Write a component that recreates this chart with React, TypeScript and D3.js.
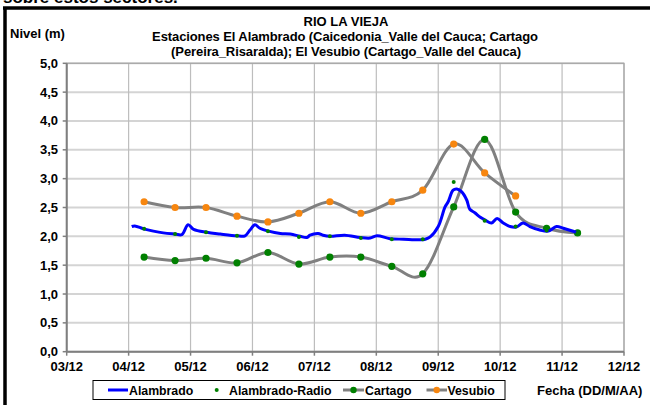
import * as d3 from "d3";

const width = 650;
const height = 405;

// eje x en meses (3 = 03/12 ... 12 = 12/12)
const tickMeses = [3, 4, 5, 6, 7, 8, 9, 10, 11, 12];
const tickEtiquetas = ["03/12", "04/12", "05/12", "06/12", "07/12", "08/12", "09/12", "10/12", "11/12", "12/12"];
const tickNivel = [0, 0.5, 1, 1.5, 2, 2.5, 3, 3.5, 4, 4.5, 5];

// muestreos quincenales
const muestreoMes = [4.25, 4.75, 5.25, 5.75, 6.25, 6.75, 7.25, 7.75, 8.25, 8.75, 9.25, 9.75, 10.25, 10.75, 11.25];
const cartago = [1.64, 1.58, 1.62, 1.54, 1.72, 1.52, 1.64, 1.64, 1.48, 1.35, 2.51, 3.68, 2.42, 2.14, 2.06];
const alambradoRadio = [2.13, 2.04, 2.07, 2.01, 2.09, 1.99, 2.0, 1.97, 1.95, 1.95, 2.94, 2.27, 2.17, 2.1, 2.06];
const vesubio = [2.6, 2.5, 2.5, 2.35, 2.25, 2.4, 2.6, 2.4, 2.6, 2.8, 3.6, 3.1, 2.7];

// serie continua de la estacion El Alambrado
const alambradoMes = [
  4.05, 4.1, 4.24, 4.4, 4.56, 4.75, 4.86, 4.96, 5.05, 5.26, 5.48, 5.75, 5.88, 5.96, 6.04, 6.12, 6.26, 6.45, 6.61,
  6.77, 6.88, 6.93, 7.06, 7.14, 7.25, 7.49, 7.74, 7.9, 8.01, 8.22, 8.44, 8.71, 8.79, 8.87, 9.0, 9.11, 9.16, 9.24,
  9.3, 9.38, 9.46, 9.51, 9.59, 9.68, 9.76, 9.86, 9.95, 10.05, 10.16, 10.26, 10.37, 10.48, 10.64, 10.78, 10.91,
  11.02, 11.26,
];
const alambradoNivel = [
  2.17, 2.18, 2.13, 2.09, 2.06, 2.04, 2.03, 2.2, 2.12, 2.07, 2.04, 2.01, 2.01, 2.11, 2.2, 2.14, 2.09, 2.05, 2.04,
  2.0, 1.98, 2.02, 2.05, 2.02, 2.0, 2.02, 1.98, 1.97, 2.01, 1.96, 1.95, 1.94, 1.95, 1.99, 2.17, 2.51, 2.6, 2.8,
  2.82, 2.77, 2.63, 2.47, 2.41, 2.33, 2.28, 2.23, 2.31, 2.23, 2.17, 2.16, 2.23, 2.17, 2.11, 2.09, 2.17, 2.14,
  2.06,
];

const font = "'Liberation Sans', Arial, sans-serif";
const plotLeft = 66.7;
const plotRight = 624;
const plotTop = 63.3;
const plotBottom = 351.7;

const x = d3.scaleLinear().domain([3, 12]).range([plotLeft, plotRight]);
const y = d3.scaleLinear().domain([0, 5]).range([plotBottom, plotTop]);

const suave = d3
  .line<[number, number]>()
  .x((d) => x(d[0]))
  .y((d) => y(d[1]))
  .curve(d3.curveCardinal.tension(0));

const suaveAlambrado = d3
  .line<[number, number]>()
  .x((d) => x(d[0]))
  .y((d) => y(d[1]))
  .curve(d3.curveCatmullRom.alpha(0.5));

const pares = (xs: number[], ys: number[]): [number, number][] => ys.map((v, i) => [xs[i], v]);

const App = () => {
  const ptsCartago = pares(muestreoMes, cartago);
  const ptsVesubio = pares(muestreoMes, vesubio);
  const ptsRadio = pares(muestreoMes, alambradoRadio);
  const ptsAlambrado = pares(alambradoMes, alambradoNivel);

  return (
    <svg
      width={width}
      height={height}
      style={{ position: "absolute", left: 0, top: 0, background: "#fff" }}
      fontFamily={font}
      fontWeight="bold"
    >
      <text x={3} y={3} fontSize={17} fill="#000">
        sobre estos sectores.
      </text>
      <line x1={3} x2={650} y1={8} y2={8} stroke="#000" strokeWidth={3.5} />
      <line x1={5} x2={5} y1={7} y2={405} stroke="#000" strokeWidth={3.5} />

      <text x={346} y={26} fontSize={13} textAnchor="middle">RIO LA VIEJA</text>
      <text x={345} y={41} fontSize={13} textAnchor="middle" letterSpacing={-0.1}>
        Estaciones El Alambrado (Caicedonia_Valle del Cauca; Cartago
      </text>
      <text x={346} y={55.5} fontSize={13} textAnchor="middle" letterSpacing={-0.1}>
        (Pereira_Risaralda);  El Vesubio (Cartago_Valle del Cauca)
      </text>
      <text x={10} y={38} fontSize={13}>Nivel (m)</text>

      {/* rejilla */}
      {tickNivel.map((t) => (
        <line key={"h" + t} x1={plotLeft} x2={plotRight} y1={y(t)} y2={y(t)} stroke="#d4d4d4" strokeWidth={2} />
      ))}
      {tickMeses.map((t) => (
        <line key={"v" + t} x1={x(t)} x2={x(t)} y1={plotTop} y2={plotBottom} stroke="#bdbdbd" strokeWidth={1.2} />
      ))}
      <rect x={plotLeft} y={plotTop} width={plotRight - plotLeft} height={plotBottom - plotTop} fill="none" stroke="#a6a6a6" strokeWidth={1.2} />
      <line x1={plotLeft} x2={plotLeft} y1={plotTop} y2={plotBottom} stroke="#7f7f7f" strokeWidth={2} />
      <line x1={plotLeft} x2={plotRight} y1={plotBottom} y2={plotBottom} stroke="#7f7f7f" strokeWidth={2} />

      {tickNivel.map((t) => (
        <g key={"yt" + t}>
          <line x1={plotLeft - 4} x2={plotLeft} y1={y(t)} y2={y(t)} stroke="#7f7f7f" strokeWidth={1.5} />
          <text x={58} y={y(t) + 4.5} fontSize={13} textAnchor="end">
            {d3.format(".1f")(t).replace(".", ",")}
          </text>
        </g>
      ))}
      {tickMeses.map((t, i) => (
        <g key={"xt" + t}>
          <line x1={x(t)} x2={x(t)} y1={plotBottom} y2={plotBottom + 4} stroke="#7f7f7f" strokeWidth={1.5} />
          <text x={x(t)} y={371} fontSize={13} textAnchor="middle">
            {tickEtiquetas[i]}
          </text>
        </g>
      ))}

      {/* series */}
      <path d={suave(ptsCartago) ?? ""} fill="none" stroke="#808080" strokeWidth={3} />
      <path d={suave(ptsVesubio) ?? ""} fill="none" stroke="#808080" strokeWidth={3} />
      {ptsVesubio.map((d, i) => (
        <circle key={"vs" + i} cx={x(d[0])} cy={y(d[1])} r={3.6} fill="#f7860f" />
      ))}
      {ptsCartago.map((d, i) => (
        <circle key={"ct" + i} cx={x(d[0])} cy={y(d[1])} r={3.6} fill="#008000" />
      ))}
      <path d={suaveAlambrado(ptsAlambrado) ?? ""} fill="none" stroke="#0000ff" strokeWidth={3} />
      {ptsRadio.map((d, i) => (
        <circle key={"rd" + i} cx={x(d[0])} cy={y(d[1])} r={2} fill="#008000" />
      ))}

      {/* leyenda */}
      <rect x={93} y={380.5} width={412} height={19} fill="#fff" stroke="#000" strokeWidth={1} />
      <line x1={108} x2={128} y1={390} y2={390} stroke="#0000ff" strokeWidth={3} />
      <text x={129} y={394.5} fontSize={12.3}>Alambrado</text>
      <circle cx={216.7} cy={390} r={2} fill="#008000" />
      <text x={229} y={394.5} fontSize={12.3}>Alambrado-Radio</text>
      <line x1={343} x2={364} y1={390} y2={390} stroke="#808080" strokeWidth={3} />
      <circle cx={353.5} cy={390} r={3.2} fill="#008000" />
      <text x={365} y={394.5} fontSize={12.3}>Cartago</text>
      <line x1={426.5} x2={447} y1={390} y2={390} stroke="#808080" strokeWidth={3} />
      <circle cx={436.7} cy={390} r={3.2} fill="#f7860f" />
      <text x={447.5} y={394.5} fontSize={12.3}>Vesubio</text>
      <text x={537} y={395} fontSize={13}>Fecha (DD/M/AA)</text>
    </svg>
  );
};

export default App;
